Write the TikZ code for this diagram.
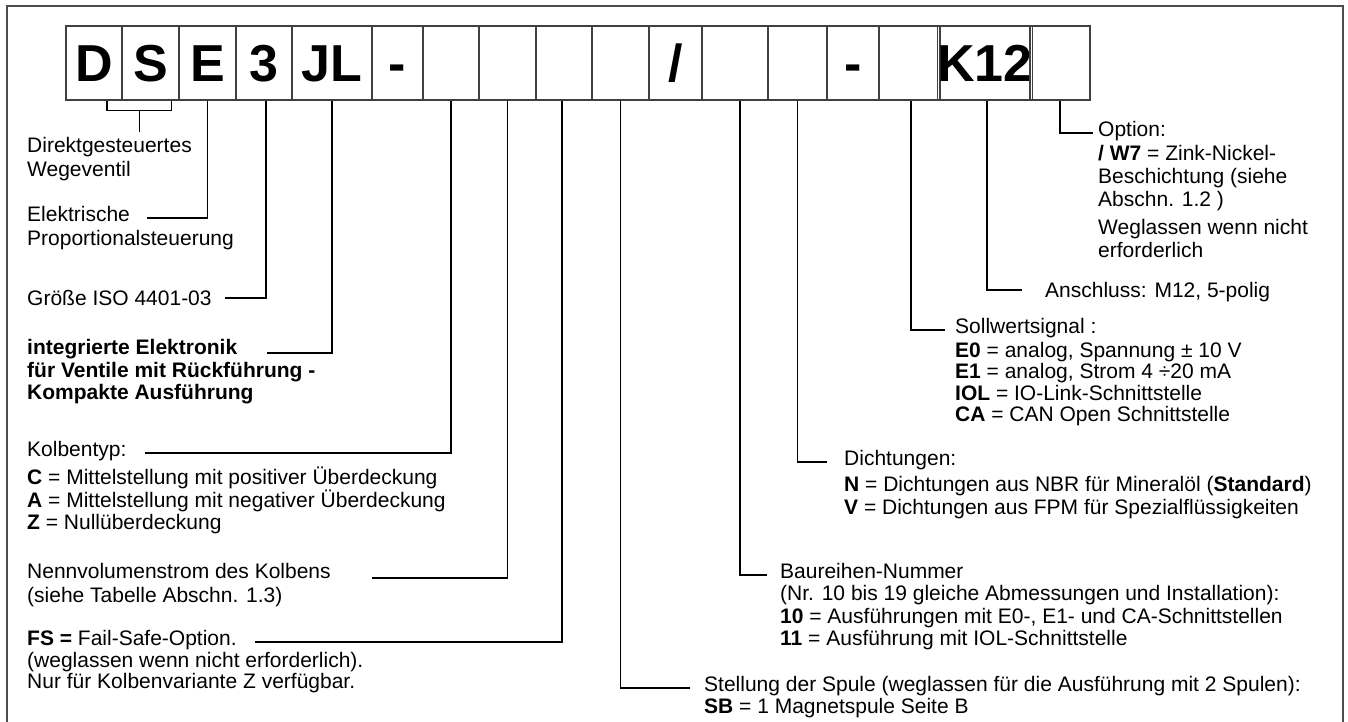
\documentclass[tikz,border=0pt]{standalone}
\usepackage{fontspec}
\setmainfont{Liberation Sans}
\usetikzlibrary{positioning}
\tikzset{
  cell/.style={draw=black!75, line width=1.3pt, minimum height=74pt, inner sep=0pt,
    text height=37pt, text depth=0pt, font=\fontsize{52}{52}\selectfont\bfseries},
  lead/.style={line width=1.2pt},
  txt/.style={anchor=north west, inner sep=0pt, align=left, font=\fontsize{21}{23}\selectfont,
    execute at begin node={\rule{0pt}{19pt}}},
}

\begin{document}
\begin{tikzpicture}[x=1pt, y=-1pt]
  \useasboundingbox (0,0) rectangle (1348,722);
  % frame
  \draw[line width=1.5pt, black!70] (7,722) -- (7,6) -- (1343,6) -- (1343,722);

  % code boxes
  \foreach \xa/\xb/\lbl [count=\i] in {66/122/D, 122/179/S, 179/236/E, 236/292/3, 292/372/JL,
      372/423/-, 423/479/{}, 479/536/{}, 536/592/{}, 592/649/{}, 649/702/\slash, 702/768/{},
      768/827/{}, 827/879/-, 879/940/{}, 940/1030/K12, 1030/1090/{}}
    \node[cell, minimum width={(\xb-\xa)*1pt}] (b\i) at ({(\xa+\xb)/2},63) {\lbl};

  % left column
  \node[txt, font=\fontsize{21}{24}\selectfont] (tDir) at (27,137.5) {Direktgesteuertes\\Wegeventil};
  \node[txt, font=\fontsize{21}{24}\selectfont] (tElek) at (27,206.5) {Elektrische\\Proportionalsteuerung};
  \node[txt] (tSize) at (27,286.5) {Größe ISO 4401-03};
  \node[txt, font=\fontsize{21}{22.5}\selectfont\bfseries] (tElec) at (27,339.5)
    {integrierte Elektronik\\für Ventile mit Rückführung -\\Kompakte Ausführung};
  \node[txt, font=\fontsize{21}{21.5}\selectfont] (tSpool) at (27,441.5)
    {Kolbentyp:\\[5pt]\textbf{C} = Mittelstellung mit positiver Überdeckung\\
     \textbf{A} = Mittelstellung mit negativer Überdeckung\\\textbf{Z} = Nullüberdeckung};
  \node[txt, font=\fontsize{21}{24}\selectfont] (tFlow) at (27,563.5)
    {Nennvolumenstrom des Kolbens\\(siehe Tabelle Abschn. 1.3)};
  \node[txt, font=\fontsize{21}{21.5}\selectfont] (tFS) at (27,630.5)
    {\textbf{FS =} Fail-Safe-Option.\\(weglassen wenn nicht erforderlich).\\Nur für Kolbenvariante Z verfügbar.};

  % right column
  \node[txt] (tOpt) at (1098,121.5)
    {Option:\\[1pt]\textbf{/ W7} = Zink-Nickel-\\Beschichtung (siehe\\Abschn. 1.2 )\\[5pt]Weglassen wenn nicht\\erforderlich};
  \node[txt] (tConn) at (1045,278.5) {Anschluss: M12, 5-polig};
  \node[txt, font=\fontsize{21}{21.5}\selectfont] (tSig) at (955,318.5)
    {Sollwertsignal :\\[2pt]\textbf{E0} = analog, Spannung ± 10 V\\\textbf{E1} = analog, Strom 4 ÷20 mA\\
     \textbf{IOL} = IO-Link-Schnittstelle\\\textbf{CA} = CAN Open Schnittstelle};
  \node[txt] (tSeal) at (844,450.5)
    {Dichtungen:\\[3pt]\textbf{N} = Dichtungen aus NBR für Mineralöl (\textbf{Standard})\\
     \textbf{V} = Dichtungen aus FPM für Spezialflüssigkeiten};
  \node[txt, font=\fontsize{21}{22}\selectfont] (tSer) at (780,563.5)
    {Baureihen-Nummer\\(Nr. 10 bis 19 gleiche Abmessungen und Installation):\\[1pt]
     \textbf{10} = Ausführungen mit E0-, E1- und CA-Schnittstellen\\\textbf{11} = Ausführung mit IOL-Schnittstelle};
  \node[txt, font=\fontsize{21}{22}\selectfont] (tPos) at (704,676.5)
    {Stellung der Spule (weglassen für die Ausführung mit 2 Spulen):\\\textbf{SB} = 1 Magnetspule Seite B};

  % free ends of the leaders
  \coordinate (eElek) at (147,218);
  \coordinate (eSize) at (225,298);
  \coordinate (eElec) at (267,353);
  \coordinate (eSpool) at (145,453);
  \coordinate (eFlow) at (372,578);
  \coordinate (eFS) at (255,642);
  \coordinate (ePos) at (690,688);
  \coordinate (eSer) at (767,575);
  \coordinate (eSeal) at (827,462);
  \coordinate (eSig) at (945,330);
  \coordinate (eConn) at (1022,290);
  \coordinate (eOpt) at (1093,133);

  % leaders
  \draw[lead] ([xshift=13pt]b1.south) -- ++(0,10) -| ([xshift=21pt]b2.south);
  \draw[lead] ([xshift=-11pt]b2.south) ++(0,10) coordinate (brC) -- ++(0,21);
  \draw[lead] (b3.south) |- (eElek);
  \draw[lead] ([xshift=2pt]b4.south) |- (eSize);
  \draw[lead] (b5.south) |- (eElec);
  \draw[lead] (b7.south) |- (eSpool);
  \draw[lead] (b8.south) |- (eFlow);
  \draw[lead] ([xshift=-2pt]b9.south) |- (eFS);
  \draw[lead] (b10.south) |- (ePos);
  \draw[lead] ([xshift=5pt]b12.south) |- (eSer);
  \draw[lead] (b13.south) |- (eSeal);
  \draw[lead] ([xshift=1.5pt]b15.south) |- (eSig);
  \draw[lead] ([xshift=2pt]b16.south) |- (eConn);
  \draw[lead] (b17.south) |- (eOpt);
\end{tikzpicture}
\end{document}
